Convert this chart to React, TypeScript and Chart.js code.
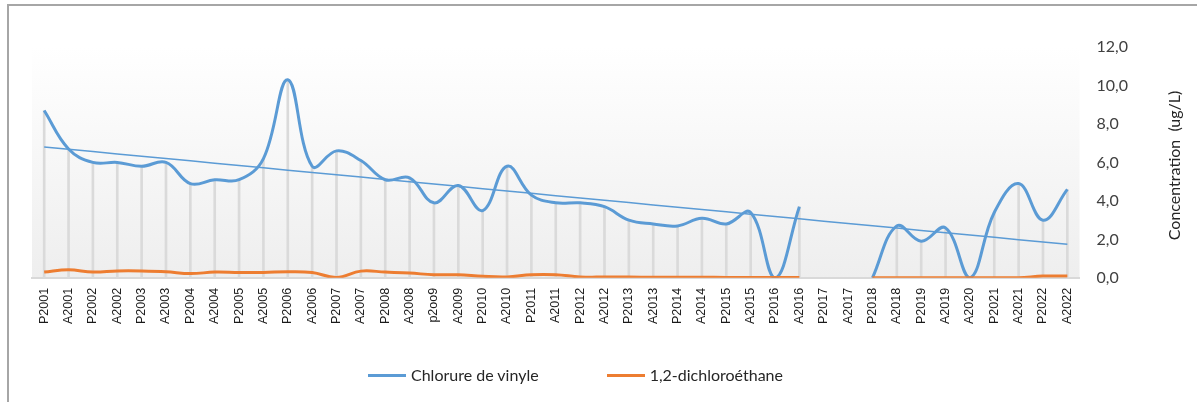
import React, { useEffect, useRef } from "react";
import { Chart, registerables } from "chart.js";

Chart.register(...registerables);

// ---------- DATA ----------
const categories: string[] = [
  "P2001", "A2001", "P2002", "A2002", "P2003", "A2003", "P2004", "A2004",
  "P2005", "A2005", "P2006", "A2006", "P2007", "A2007", "P2008", "A2008",
  "p2oo9", "A2009", "P2010", "A2010", "P2011", "A2011", "P2012", "A2012",
  "P2013", "A2013", "P2014", "A2014", "P2015", "A2015", "P2016", "A2016",
  "P2017", "A2017", "P2018", "A2018", "P2019", "A2019", "A2020", "P2021",
  "A2021", "P2022", "A2022",
];

const chlorureDeVinyle: (number | null)[] = [
  8.7, 6.7, 6.0, 6.0, 5.8, 6.0, 4.9, 5.1,
  5.1, 6.2, 10.3, 5.8, 6.6, 6.1, 5.1, 5.2,
  3.9, 4.8, 3.5, 5.8, 4.3, 3.9, 3.9, 3.7,
  3.0, 2.8, 2.7, 3.1, 2.8, 3.4, 0.0, 3.7,
  null, null, 0.0, 2.7, 1.9, 2.6, 0.0, 3.4,
  4.9, 3.0, 4.6,
];

const dichloroethane: (number | null)[] = [
  0.30, 0.42, 0.30, 0.36, 0.36, 0.32, 0.22, 0.30,
  0.28, 0.28, 0.32, 0.28, 0.02, 0.35, 0.30, 0.25,
  0.16, 0.16, 0.08, 0.05, 0.16, 0.16, 0.05, 0.04,
  0.04, 0.03, 0.03, 0.03, 0.02, 0.02, 0.02, 0.02,
  null, null, 0.01, 0.01, 0.01, 0.01, 0.01, 0.01,
  0.01, 0.09, 0.09,
];

const seriesNames = ["Chlorure de vinyle", "1,2-dichloroéthane"];
const seriesColors = ["#5B9BD5", "#ED7D31"];
const axisTitle = "Concentration  (ug/L)";
const yMin = 0;
const yMax = 12;
const yStep = 2;

// Linear trend (least squares over the non-empty points)
function linearTrend(values: (number | null)[]): number[] {
  const pts: [number, number][] = [];
  values.forEach((v, i) => {
    if (v !== null && v !== undefined) pts.push([i, v]);
  });
  const n = pts.length;
  const mx = pts.reduce((s, p) => s + p[0], 0) / n;
  const my = pts.reduce((s, p) => s + p[1], 0) / n;
  let sxy = 0;
  let sxx = 0;
  pts.forEach(([x, y]) => {
    sxy += (x - mx) * (y - my);
    sxx += (x - mx) * (x - mx);
  });
  const b = sxy / sxx;
  const a = my - b * mx;
  return values.map((_, i) => a + b * i);
}

const trendChlorure = linearTrend(chlorureDeVinyle);

// ---------- PLUGINS ----------
const plotBackground = {
  id: "plotBackground",
  beforeDraw(chart: any) {
    const { ctx, chartArea } = chart;
    if (!chartArea) return;
    const g = ctx.createLinearGradient(0, chartArea.top, 0, chartArea.bottom);
    g.addColorStop(0, "#ffffff");
    g.addColorStop(1, "#eeeeee");
    ctx.save();
    ctx.fillStyle = g;
    ctx.fillRect(
      chartArea.left,
      chartArea.top,
      chartArea.right - chartArea.left,
      chartArea.bottom - chartArea.top
    );
    ctx.restore();
  },
};

const rightAxisTitle = {
  id: "rightAxisTitle",
  afterDraw(chart: any) {
    const { ctx, chartArea } = chart;
    ctx.save();
    ctx.translate(chart.width - 22, (chartArea.top + chartArea.bottom) / 2 + 3);
    ctx.rotate(-Math.PI / 2);
    ctx.font = "16px Lato";
    ctx.fillStyle = "#262626";
    ctx.textAlign = "center";
    ctx.textBaseline = "middle";
    ctx.fillText(axisTitle, 0, 0);
    ctx.restore();
  },
};

export default function App() {
  const canvasRef = useRef<HTMLCanvasElement | null>(null);

  useEffect(() => {
    document.body.style.margin = "0";
    const canvas = canvasRef.current;
    if (!canvas) return;
    const chart = new Chart(canvas, {
      type: "line",
      data: {
        labels: categories,
        datasets: [
          {
            type: "line",
            label: seriesNames[1],
            data: dichloroethane,
            borderColor: seriesColors[1],
            backgroundColor: seriesColors[1],
            borderWidth: 3,
            pointRadius: 0,
            tension: 0.4,
            spanGaps: false,
            order: 0,
          },
          {
            type: "line",
            label: seriesNames[0],
            data: chlorureDeVinyle,
            borderColor: seriesColors[0],
            backgroundColor: seriesColors[0],
            borderWidth: 3,
            pointRadius: 0,
            tension: 0.4,
            spanGaps: false,
            order: 1,
          },
          {
            type: "line",
            label: "Linéaire (" + seriesNames[0] + ")",
            data: trendChlorure,
            borderColor: seriesColors[0],
            borderWidth: 1.5,
            pointRadius: 0,
            tension: 0,
            order: 2,
          },
          {
            type: "bar",
            label: "dropLines",
            data: chlorureDeVinyle,
            backgroundColor: "#dadada",
            barThickness: 2,
            order: 3,
          },
        ] as any,
      },
      options: {
        animation: false,
        responsive: false,
        maintainAspectRatio: false,
        layout: { padding: { left: 32, right: 52, top: 47, bottom: 68 } },
        plugins: {
          legend: { display: false },
          tooltip: { enabled: false },
        },
        scales: {
          x: {
            offset: true,
            grid: { display: false, drawTicks: false },
            border: { display: true, color: "#d9d9d9", width: 2 },
            ticks: {
              autoSkip: false,
              maxRotation: 90,
              minRotation: 90,
              padding: 10,
              color: "#1a1a1a",
              font: { family: '"Liberation Sans", Arial, sans-serif', size: 12.5 },
            },
          },
          y: {
            position: "right",
            min: yMin,
            max: yMax,
            grid: { display: false, drawTicks: false },
            border: { display: false },
            ticks: {
              stepSize: yStep,
              padding: 17,
              color: "#404040",
              font: { family: "Lato", size: 16 },
              callback: (v: any) => Number(v).toFixed(1).replace(".", ","),
            },
          },
        },
      } as any,
      plugins: [plotBackground, rightAxisTitle],
    });
    return () => chart.destroy();
  }, []);

  return (
    <div style={{ position: "relative", width: 1197, height: 402, overflow: "hidden", background: "#fff" }}>
      <canvas ref={canvasRef} width={1197} height={402} style={{ display: "block" }} />
      <div
        style={{
          position: "absolute",
          left: 7,
          top: 4,
          width: 1400,
          height: 600,
          borderLeft: "2px solid #a6a6a6",
          borderTop: "2px solid #a6a6a6",
          pointerEvents: "none",
        }}
      />
      <div
        style={{
          position: "absolute",
          left: 368,
          top: 366,
          display: "flex",
          alignItems: "center",
          fontFamily: "Lato",
          fontSize: 16,
          color: "#262626",
          lineHeight: "18px",
          whiteSpace: "nowrap",
        }}
      >
        {seriesNames.map((name, i) => (
          <div key={name} style={{ display: "flex", alignItems: "center", marginRight: i === 0 ? 68 : 0 }}>
            <span style={{ display: "inline-block", width: 38, height: 3, background: seriesColors[i], marginRight: 5 }} />
            <span>{name}</span>
          </div>
        ))}
      </div>
    </div>
  );
}
